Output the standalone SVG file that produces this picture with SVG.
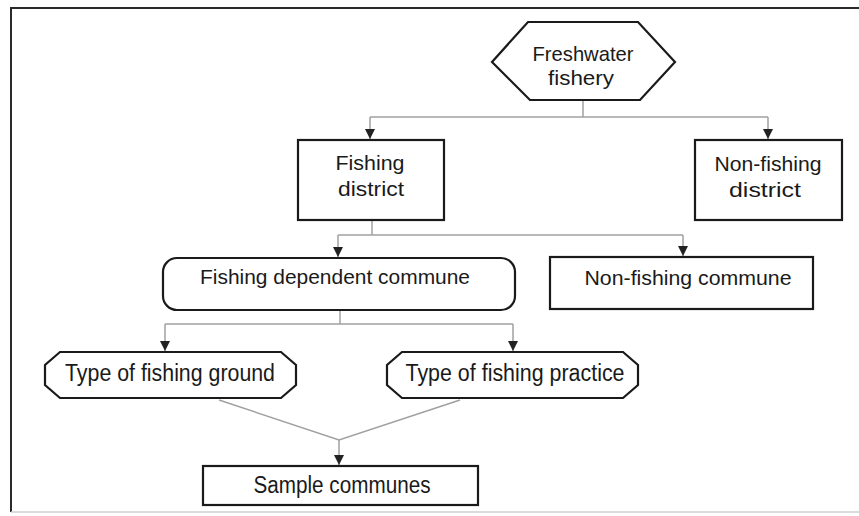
<svg xmlns="http://www.w3.org/2000/svg" width="859" height="516" viewBox="0 0 859 516">
<defs>
<style>
.n{fill:#fff;stroke:#1a1a1a;stroke-width:2.2}
.t{font-family:"Liberation Sans",Arial,sans-serif;font-size:21px;fill:#1a1a1a;text-anchor:middle}
.b{font-size:23px}
.c{fill:none;stroke:#a0a0a0;stroke-width:1.5}
</style>
<marker id="a" viewBox="0 0 10 10" refX="10" refY="5" markerWidth="10" markerHeight="10" markerUnits="userSpaceOnUse" orient="auto">
<path d="M0,0 L10,5 L0,10 Z" fill="#222"/>
</marker>
</defs>
<rect width="859" height="516" fill="#fff"/>
<g id="frame">
<path d="M859,8 H11 V512" fill="none" stroke="#2a2a2a" stroke-width="2"/>
<path d="M11,512 H859" fill="none" stroke="#cfcfcf" stroke-width="1.5"/>
</g>
<g id="connectors">
<path class="c" d="M583,100 V117"/>
<path class="c" d="M370,117 H768"/>
<path class="c" d="M370,117 V139" marker-end="url(#a)"/>
<path class="c" d="M768,117 V139" marker-end="url(#a)"/>
<path class="c" d="M372,220 V235"/>
<path class="c" d="M338,235 H683"/>
<path class="c" d="M338,235 V257" marker-end="url(#a)"/>
<path class="c" d="M683,235 V256" marker-end="url(#a)"/>
<path class="c" d="M340,310 V324"/>
<path class="c" d="M165,324 H513"/>
<path class="c" d="M165,324 V351" marker-end="url(#a)"/>
<path class="c" d="M513,324 V351" marker-end="url(#a)"/>
<path class="c" d="M219,400 L339,440 L460,400"/>
<path class="c" d="M339,440 V465" marker-end="url(#a)"/>
</g>
<g id="freshwater-fishery">
<polygon class="n" points="492,62 528,22 638,22 675,62 640,100 530,100"/>
<text class="t" x="583" y="61" textLength="101" lengthAdjust="spacingAndGlyphs">Freshwater</text>
<text class="t" x="581" y="85" textLength="66" lengthAdjust="spacingAndGlyphs">fishery</text>
</g>
<g id="fishing-district">
<rect class="n" x="298" y="140" width="146" height="80"/>
<text class="t" x="370" y="170" textLength="69" lengthAdjust="spacingAndGlyphs">Fishing</text>
<text class="t" x="371" y="196" textLength="66" lengthAdjust="spacingAndGlyphs">district</text>
</g>
<g id="non-fishing-district">
<rect class="n" x="695" y="140" width="147" height="80"/>
<text class="t" x="768" y="171" textLength="107" lengthAdjust="spacingAndGlyphs">Non-fishing</text>
<text class="t" x="765" y="197" textLength="72" lengthAdjust="spacingAndGlyphs">district</text>
</g>
<g id="fishing-dependent-commune">
<rect class="n" x="163" y="258" width="352" height="52" rx="14"/>
<text class="t" x="335" y="284" textLength="270" lengthAdjust="spacingAndGlyphs">Fishing dependent commune</text>
</g>
<g id="non-fishing-commune">
<rect class="n" x="550" y="257" width="263" height="52"/>
<text class="t" x="688" y="285" textLength="207" lengthAdjust="spacingAndGlyphs">Non-fishing commune</text>
</g>
<g id="type-of-fishing-ground">
<polygon class="n" points="60,352 281,352 296,365 296,385 281,398 60,398 45,385 45,365"/>
<text class="t b" x="170" y="381" textLength="210" lengthAdjust="spacingAndGlyphs">Type of fishing ground</text>
</g>
<g id="type-of-fishing-practice">
<polygon class="n" points="402,352 623,352 638,365 638,385 623,398 402,398 387,385 387,365"/>
<text class="t b" x="515" y="381" textLength="219" lengthAdjust="spacingAndGlyphs">Type of fishing practice</text>
</g>
<g id="sample-communes">
<rect class="n" x="203" y="466" width="275" height="39"/>
<text class="t b" x="342" y="493" textLength="177" lengthAdjust="spacingAndGlyphs">Sample communes</text>
</g>
</svg>
